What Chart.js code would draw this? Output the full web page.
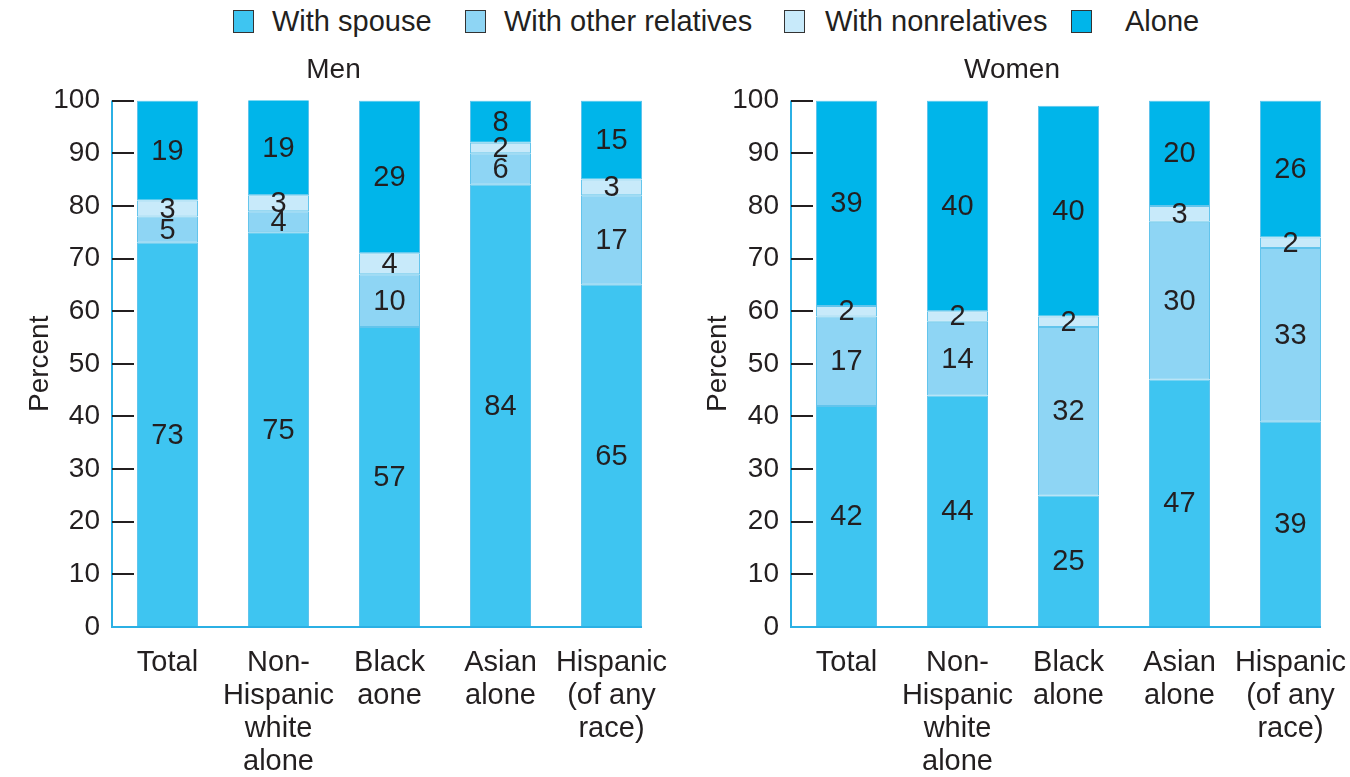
<!DOCTYPE html>
<html>
<head>
<meta charset="utf-8">
<script src="https://cdn.jsdelivr.net/npm/chart.js@4.4.0/dist/chart.umd.min.js"></script>
<style>
  body { margin: 0; background: #fff; }
  #wrap { position: relative; width: 1350px; height: 777px; font-family: "Liberation Sans", Arial, sans-serif; color: #231f20; }
  #legend { position: absolute; left: 0; top: 3px; width: 1350px; height: 36px; font-size: 29px; line-height: 36px; }
  #legend .item { position: absolute; top: 0; display: flex; align-items: center; white-space: nowrap; }
  #legend .box { width: 21px; height: 23px; border: 1.5px solid #333; box-sizing: border-box; }
  #men { position: absolute; left: 0; top: 0; }
  #women { position: absolute; left: 678px; top: 0; }
</style>
</head>
<body>
<div id="wrap">
  <div id="legend"></div>
  <canvas id="men" width="678" height="777"></canvas>
  <canvas id="women" width="672" height="777"></canvas>
</div>
<script>
const seriesNames = ["With spouse", "With other relatives", "With nonrelatives", "Alone"];
const seriesColors = ["#3ec5f1", "#8ed5f4", "#c8eafa", "#00b5ea"];

const menLabels = [["Total"], ["Non-", "Hispanic", "white", "alone"], ["Black", "aone"], ["Asian", "alone"], ["Hispanic", "(of any", "race)"]];
const womenLabels = [["Total"], ["Non-", "Hispanic", "white", "alone"], ["Black", "alone"], ["Asian", "alone"], ["Hispanic", "(of any", "race)"]];

const menSpouse = [73, 75, 57, 84, 65];
const menOther = [5, 4, 10, 6, 17];
const menNonrel = [3, 3, 4, 2, 3];
const menAlone = [19, 19, 29, 8, 15];

const womenSpouse = [42, 44, 25, 47, 39];
const womenOther = [17, 14, 32, 30, 33];
const womenNonrel = [2, 2, 2, 3, 2];
const womenAlone = [39, 40, 40, 20, 26];

const textColor = "#231f20";
const axisBlue = "#2bb0e4";
const FONT = "'Liberation Sans', Arial, sans-serif";

// legend, one entry per series
const legendX = [233, 465, 784, 1071];
const legendGap = [18, 18, 20, 33];
const legendEl = document.getElementById("legend");
seriesNames.forEach((name, i) => {
  const item = document.createElement("div");
  item.className = "item";
  item.style.left = legendX[i] + "px";
  const box = document.createElement("span");
  box.className = "box";
  box.style.background = seriesColors[i];
  box.style.marginRight = legendGap[i] + "px";
  const txt = document.createElement("span");
  txt.textContent = name;
  item.appendChild(box);
  item.appendChild(txt);
  legendEl.appendChild(item);
});

// values inside segments, axis lines and inward tick marks
const decor = {
  id: "decor",
  afterDatasetsDraw(chart) {
    const ctx = chart.ctx;
    ctx.save();
    ctx.font = "29px " + FONT;
    ctx.fillStyle = textColor;
    ctx.textAlign = "center";
    ctx.textBaseline = "middle";
    chart.data.datasets.forEach((ds, di) => {
      chart.getDatasetMeta(di).data.forEach((el, i) => {
        const top = Math.max(el.y, chart.chartArea.top);
        ctx.fillText(String(ds.data[i]), el.x, (top + el.base) / 2 + 1);
      });
    });
    ctx.restore();
  },
  afterDraw(chart) {
    const ctx = chart.ctx;
    const area = chart.chartArea;
    const y = chart.scales.y;
    const meta = chart.getDatasetMeta(0);
    const last = meta.data[meta.data.length - 1];
    ctx.save();
    ctx.strokeStyle = axisBlue;
    ctx.lineWidth = 2;
    ctx.beginPath();
    ctx.moveTo(area.left, area.top);
    ctx.lineTo(area.left, area.bottom);
    ctx.lineTo(last.x + last.width / 2, area.bottom);
    ctx.stroke();
    ctx.strokeStyle = "#231f20";
    ctx.lineWidth = 2;
    y.ticks.forEach((t, i) => {
      if (t.value === 0) return;
      const py = Math.round(y.getPixelForTick(i));
      ctx.beginPath();
      ctx.moveTo(area.left, py);
      ctx.lineTo(area.left + 22, py);
      ctx.stroke();
    });
    ctx.restore();
  }
};

function makeChart(id, title, labels, spouse, other, nonrel, alone, axisWidth, rightPad) {
  const sets = [spouse, other, nonrel, alone];
  return new Chart(document.getElementById(id), {
    type: "bar",
    data: {
      labels: labels,
      datasets: sets.map((d, i) => ({
        label: seriesNames[i],
        data: d,
        backgroundColor: seriesColors[i],
        borderColor: "#62c4ec",
        borderWidth: 1,
        borderSkipped: false,
        categoryPercentage: 1,
        barPercentage: 0.55
      }))
    },
    options: {
      responsive: false,
      animation: false,
      layout: { padding: { top: 40, right: rightPad, bottom: 0, left: 0 } },
      plugins: {
        legend: { display: false },
        tooltip: { enabled: false },
        title: {
          display: true,
          text: title,
          color: textColor,
          font: { family: FONT, size: 28, weight: "normal", lineHeight: 1.2 },
          padding: { top: 13, bottom: 14 }
        }
      },
      scales: {
        x: {
          stacked: true,
          grid: { display: false, drawTicks: false },
          border: { display: false },
          afterFit(scale) {
            scale.height = 150;
            scale.paddingLeft = 0;
            scale.paddingRight = 0;
          },
          ticks: {
            color: textColor,
            padding: 19,
            maxRotation: 0,
            autoSkip: false,
            font: { family: FONT, size: 29, lineHeight: 1.14 }
          }
        },
        y: {
          stacked: true,
          min: 0,
          max: 100,
          grid: { display: false, drawTicks: false },
          border: { display: false },
          afterFit(scale) { scale.width = axisWidth; },
          ticks: {
            stepSize: 10,
            color: textColor,
            padding: 12,
            font: { family: FONT, size: 28 }
          },
          title: {
            display: true,
            text: "Percent",
            color: textColor,
            padding: { top: 23, bottom: 0 },
            font: { family: FONT, size: 28, lineHeight: 1.2 }
          }
        }
      }
    },
    plugins: [decor]
  });
}

makeChart("men", "Men", menLabels, menSpouse, menOther, menNonrel, menAlone, 112, 11);
makeChart("women", "Women", womenLabels, womenSpouse, womenOther, womenNonrel, womenAlone, 113, 4);
</script>
</body>
</html>
